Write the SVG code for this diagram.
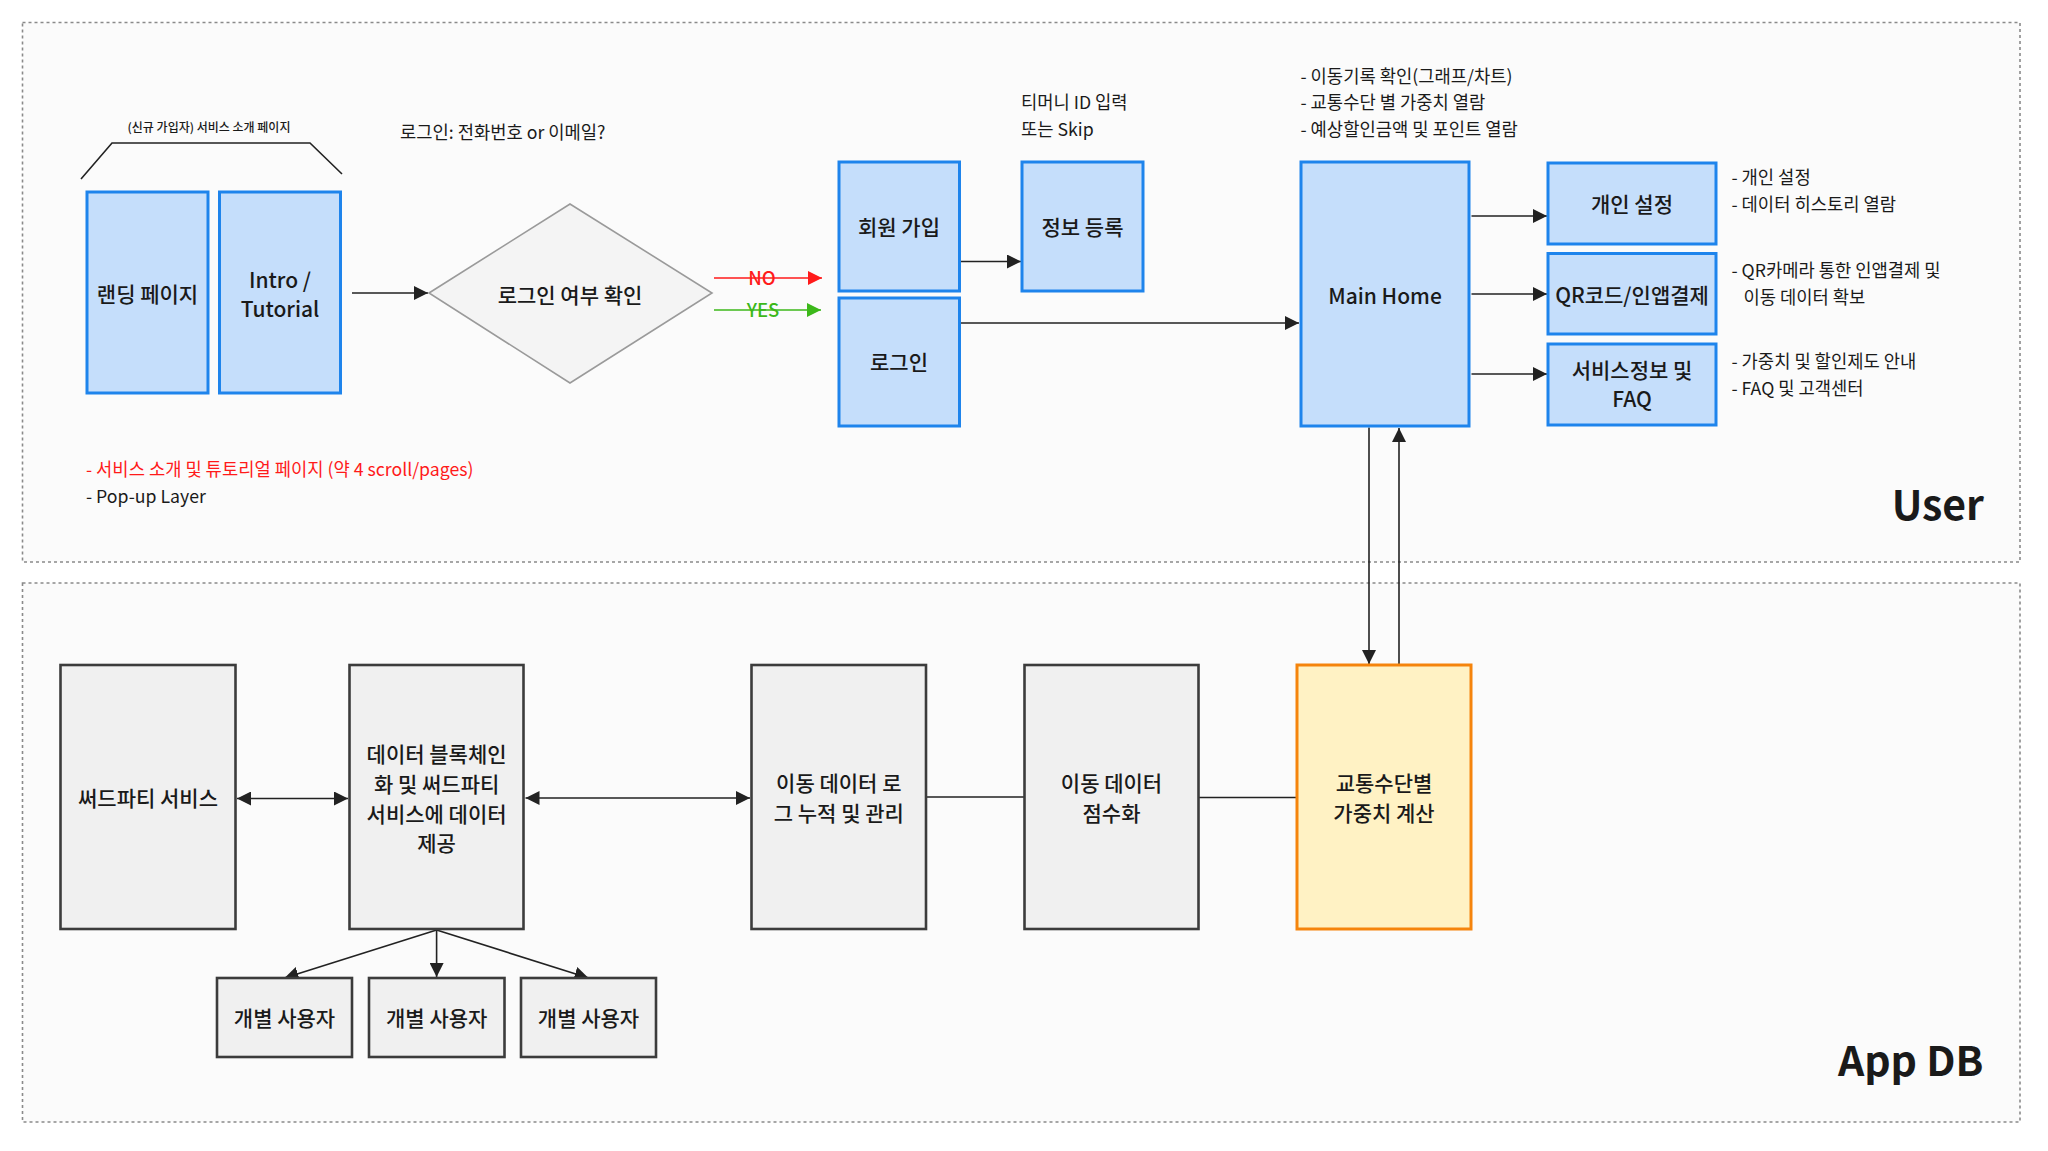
<svg xmlns="http://www.w3.org/2000/svg" width="2048" height="1151" viewBox="0 0 2048 1151">
<style>
text{font-family:"Noto Sans CJK KR","Noto Sans",sans-serif;fill:#1a1a1a;font-weight:500}
.lbl{font-size:21px;text-anchor:middle}
.note{font-size:17.7px;font-weight:400}
.frame{fill:#fbfbfb;stroke:#8a8a8a;stroke-width:1.6;stroke-dasharray:3 3}
.blue{fill:#c5defb;stroke:#1e84ec;stroke-width:3}
.gray{fill:#f0f0f0;stroke:#3c3c3c;stroke-width:2.6}
.orange{fill:#fff2c4;stroke:#f5840c;stroke-width:3}
.ln{fill:none;stroke:#222;stroke-width:1.6}
.title{font-size:41px;font-weight:bold;text-anchor:end;fill:#1a1a1a}
</style>
<defs>
<marker id="ahb" viewBox="0 0 10 10" refX="10" refY="5" markerWidth="14" markerHeight="14" markerUnits="userSpaceOnUse" orient="auto-start-reverse"><path d="M0,0 L10,5 L0,10 z" fill="#222"/></marker>
<marker id="ahr" viewBox="0 0 10 10" refX="10" refY="5" markerWidth="14" markerHeight="14" markerUnits="userSpaceOnUse" orient="auto"><path d="M0,0 L10,5 L0,10 z" fill="#ff1a1a"/></marker>
<marker id="ahg" viewBox="0 0 10 10" refX="10" refY="5" markerWidth="14" markerHeight="14" markerUnits="userSpaceOnUse" orient="auto"><path d="M0,0 L10,5 L0,10 z" fill="#3cb81a"/></marker>
</defs>
<rect width="2048" height="1151" fill="#ffffff"/>
<g id="frame-user"><rect class="frame" x="22.5" y="22.5" width="1997.5" height="539.5"/><text class="title" x="1984" y="519.5">User</text></g>
<g id="frame-appdb"><rect class="frame" x="22.5" y="583" width="1997.5" height="539"/><text class="title" x="1983.5" y="1075.5">App DB</text></g>

<g id="connectors">
<path class="ln" d="M81,179 L112,143 L310,143 L342,174"/>
<line class="ln" x1="352" y1="293" x2="428" y2="293" marker-end="url(#ahb)"/>
<line x1="714" y1="278" x2="822" y2="278" stroke="#ff1a1a" stroke-width="1.6" marker-end="url(#ahr)"/>
<line x1="714" y1="310" x2="821" y2="310" stroke="#3cb81a" stroke-width="1.6" marker-end="url(#ahg)"/>
<line class="ln" x1="960" y1="261.5" x2="1021" y2="261.5" marker-end="url(#ahb)"/>
<line class="ln" x1="960" y1="323" x2="1299" y2="323" marker-end="url(#ahb)"/>
<line class="ln" x1="1471.5" y1="216" x2="1547" y2="216" marker-end="url(#ahb)"/>
<line class="ln" x1="1471.5" y1="294" x2="1547" y2="294" marker-end="url(#ahb)"/>
<line class="ln" x1="1471.5" y1="374" x2="1547" y2="374" marker-end="url(#ahb)"/>
<line class="ln" x1="1369" y1="427.5" x2="1369" y2="664" marker-end="url(#ahb)"/>
<line class="ln" x1="1399" y1="664" x2="1399" y2="428" marker-end="url(#ahb)"/>
<line class="ln" x1="237" y1="798.5" x2="348" y2="798.5" marker-start="url(#ahb)" marker-end="url(#ahb)"/>
<line class="ln" x1="525.5" y1="798" x2="750" y2="798" marker-start="url(#ahb)" marker-end="url(#ahb)"/>
<line class="ln" x1="926" y1="797" x2="1024.5" y2="797"/>
<line class="ln" x1="1198.5" y1="797.5" x2="1297" y2="797.5"/>
<line class="ln" x1="436.6" y1="930" x2="284.5" y2="978" marker-end="url(#ahb)"/>
<line class="ln" x1="436.6" y1="930" x2="436.6" y2="977" marker-end="url(#ahb)"/>
<line class="ln" x1="436.6" y1="930" x2="588.5" y2="978" marker-end="url(#ahb)"/>
<text x="762" y="284.5" style="font-size:18.5px;text-anchor:middle;fill:#ff1a1a">NO</text>
<text x="763" y="316.5" style="font-size:18.5px;text-anchor:middle;fill:#3cb81a">YES</text>
</g>

<g id="n-intro-label"><text x="209" y="132" style="font-size:12px;text-anchor:middle">(신규 가입자) 서비스 소개 페이지</text></g>
<g id="n-landing"><rect class="blue" x="87" y="192" width="121" height="201"/><text class="lbl" x="147.5" y="301.5">랜딩 페이지</text></g>
<g id="n-intro"><rect class="blue" x="219.5" y="192" width="121" height="201"/><text class="lbl" x="280" y="287.5">Intro /</text><text class="lbl" x="280" y="316.5">Tutorial</text></g>
<g id="n-login-note"><text class="note" x="400" y="139">로그인: 전화번호 or 이메일?</text></g>
<g id="n-decision"><polygon points="429,293 570,204 712,293 570,383" fill="#f4f4f4" stroke="#9a9a9a" stroke-width="1.6"/><text class="lbl" x="570" y="302.5">로그인 여부 확인</text></g>
<g id="n-signup"><rect class="blue" x="839" y="162" width="120.5" height="129"/><text class="lbl" x="899" y="234.5">회원 가입</text></g>
<g id="n-login"><rect class="blue" x="839" y="298" width="120.5" height="128"/><text class="lbl" x="899" y="369.5">로그인</text></g>
<g id="n-info-note"><text class="note" x="1021" y="108.5">티머니 ID 입력</text><text class="note" x="1021" y="136">또는 Skip</text></g>
<g id="n-info"><rect class="blue" x="1022" y="162" width="121" height="129"/><text class="lbl" x="1082.5" y="235">정보 등록</text></g>
<g id="n-main-note"><text class="note" x="1300.5" y="82.5">- 이동기록 확인(그래프/차트)</text><text class="note" x="1300.5" y="109">- 교통수단 별 가중치 열람</text><text class="note" x="1300.5" y="136">- 예상할인금액 및 포인트 열람</text></g>
<g id="n-main"><rect class="blue" x="1301" y="162" width="168" height="264"/><text class="lbl" x="1385" y="303.5">Main Home</text></g>
<g id="n-personal"><rect class="blue" x="1548" y="163" width="168" height="81"/><text class="lbl" x="1632" y="211.5">개인 설정</text></g>
<g id="n-qr"><rect class="blue" x="1548" y="253.5" width="168" height="80.5"/><text class="lbl" x="1632" y="302.5">QR코드/인앱결제</text></g>
<g id="n-service"><rect class="blue" x="1548" y="344" width="168" height="81"/><text class="lbl" x="1632" y="377.5">서비스정보 및</text><text class="lbl" x="1632" y="407">FAQ</text></g>
<g id="n-personal-note"><text class="note" x="1731.5" y="183.5">- 개인 설정</text><text class="note" x="1731.5" y="211">- 데이터 히스토리 열람</text></g>
<g id="n-qr-note"><text class="note" x="1731.5" y="277">- QR카메라 통한 인앱결제 및</text><text class="note" x="1743.5" y="303.5">이동 데이터 확보</text></g>
<g id="n-service-note"><text class="note" x="1731.5" y="368">- 가중치 및 할인제도 안내</text><text class="note" x="1731.5" y="395">- FAQ 및 고객센터</text></g>
<g id="n-bottom-note"><text class="note" x="86" y="475.5" style="fill:#ff1a1a">- 서비스 소개 및 튜토리얼 페이지 (약 4 scroll/pages)</text><text class="note" x="86" y="502.5">- Pop-up Layer</text></g>

<g id="n-thirdparty"><rect class="gray" x="60.5" y="665" width="175" height="264"/><text class="lbl" x="148" y="806">써드파티 서비스</text></g>
<g id="n-blockchain"><rect class="gray" x="349.5" y="665" width="174" height="264"/><text class="lbl" x="436.6" y="761.5">데이터 블록체인</text><text class="lbl" x="436.6" y="791.5">화 및 써드파티</text><text class="lbl" x="436.6" y="821.5">서비스에 데이터</text><text class="lbl" x="436.6" y="850.5">제공</text></g>
<g id="n-user1"><rect class="gray" x="217" y="978" width="135" height="79"/><text class="lbl" x="284.5" y="1025.5">개별 사용자</text></g>
<g id="n-user2"><rect class="gray" x="369" y="978" width="135.5" height="79"/><text class="lbl" x="436.7" y="1025.5">개별 사용자</text></g>
<g id="n-user3"><rect class="gray" x="521" y="978" width="135" height="79"/><text class="lbl" x="588.5" y="1025.5">개별 사용자</text></g>
<g id="n-log"><rect class="gray" x="751.5" y="665" width="174.5" height="264"/><text class="lbl" x="838.8" y="791">이동 데이터 로</text><text class="lbl" x="838.8" y="820.5">그 누적 및 관리</text></g>
<g id="n-score"><rect class="gray" x="1024.5" y="665" width="174" height="264"/><text class="lbl" x="1111.5" y="791">이동 데이터</text><text class="lbl" x="1111.5" y="820.5">점수화</text></g>
<g id="n-weight"><rect class="orange" x="1297" y="665" width="174" height="264"/><text class="lbl" x="1384" y="791">교통수단별</text><text class="lbl" x="1384" y="820.5">가중치 계산</text></g>
</svg>
